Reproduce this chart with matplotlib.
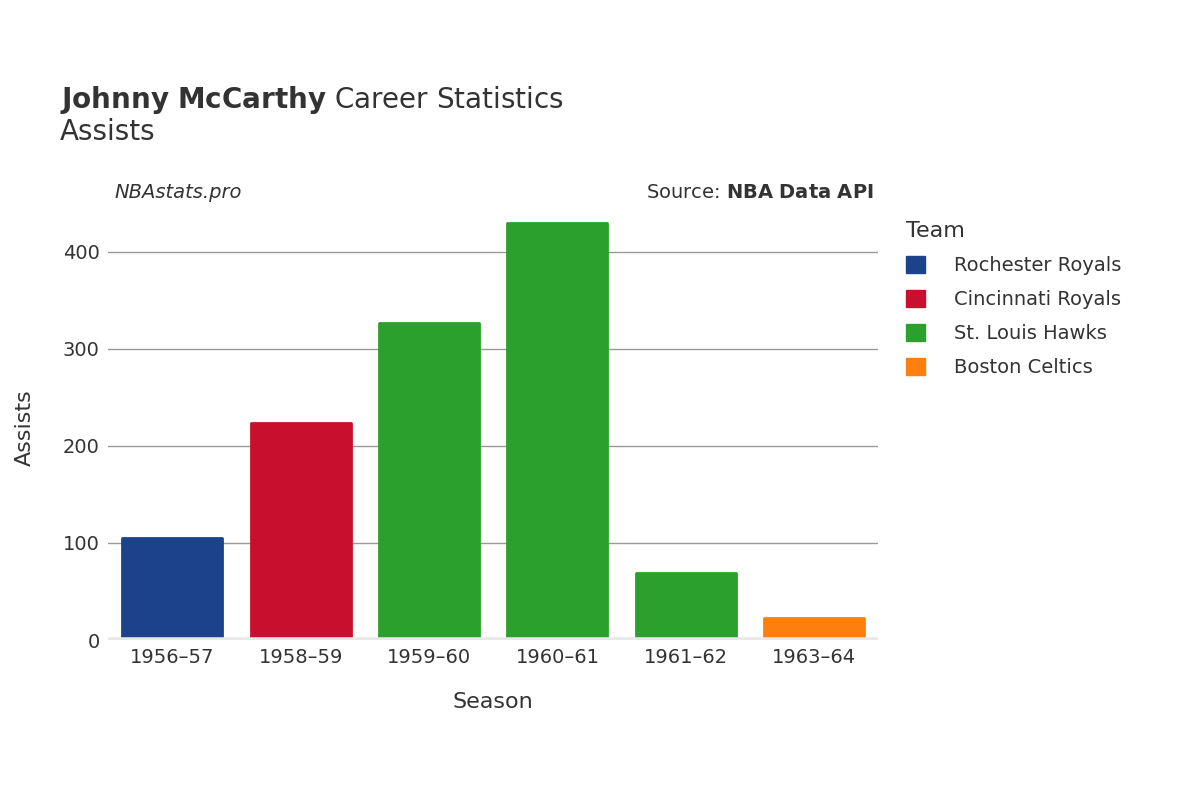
import matplotlib.pyplot as plt

seasons = ['1956–57', '1958–59', '1959–60', '1960–61', '1961–62', '1963–64']
assists = [105, 224, 327, 430, 69, 23]
teams = ['Rochester Royals', 'Cincinnati Royals', 'St. Louis Hawks', 'St. Louis Hawks',
         'St. Louis Hawks', 'Boston Celtics']
team_colors = {
    'Rochester Royals': '#1b428a',
    'Cincinnati Royals': '#c8102e',
    'St. Louis Hawks': '#2ca02c',
    'Boston Celtics': '#ff7f0e',
}

plt.rcParams['font.family'] = 'DejaVu Sans'
fig = plt.figure(figsize=(12, 8), dpi=100)
ax = fig.add_axes([0.09, 0.2, 0.642, 0.53])

x = range(len(seasons))
ax.bar(x, assists, width=0.78, color=[team_colors[t] for t in teams],
       edgecolor=[team_colors[t] for t in teams], linewidth=2, joinstyle='round', zorder=3)

ax.set_xlim(-0.5, len(seasons) - 0.5)
ax.set_ylim(0, 437)
ax.set_yticks([0, 100, 200, 300, 400])
ax.grid(axis='y', color='#999999', linewidth=1, zorder=0)
ax.axhline(0, color='#e8e8e8', linewidth=4, zorder=4)
for s in ax.spines.values():
    s.set_visible(False)
ax.tick_params(length=0, labelsize=14, colors='#333333', pad=6)
ax.set_xticks(list(x))
ax.set_xticklabels(seasons)
ax.set_xlabel('Season', fontsize=16, color='#333333', labelpad=18)
ax.set_ylabel('Assists', fontsize=16, color='#333333', labelpad=20)

fig.text(0.05, 0.875, r'$\bf{Johnny\ McCarthy}$ Career Statistics', fontsize=20, color='#333333', va='center')
fig.text(0.05, 0.835, 'Assists', fontsize=20, color='#333333', va='center')
fig.text(0.095, 0.76, 'NBAstats.pro', fontsize=14, style='italic', color='#333333', va='center')
fig.text(0.728, 0.76, r'Source: $\bf{NBA\ Data\ API}$', fontsize=14, color='#333333', va='center', ha='right')

from matplotlib.patches import Patch
handles = [Patch(color=c, label=t) for t, c in team_colors.items()]
leg = fig.legend(handles=handles, loc='upper left', bbox_to_anchor=(0.74, 0.745), frameon=False,
                 fontsize=14, title='Team', title_fontsize=16, handlelength=1, handleheight=1,
                 labelspacing=0.75, handletextpad=1.5, labelcolor='#333333')
leg._legend_box.align = 'left'
leg.get_title().set_color('#333333')

fig.savefig('out.png', dpi=100)
